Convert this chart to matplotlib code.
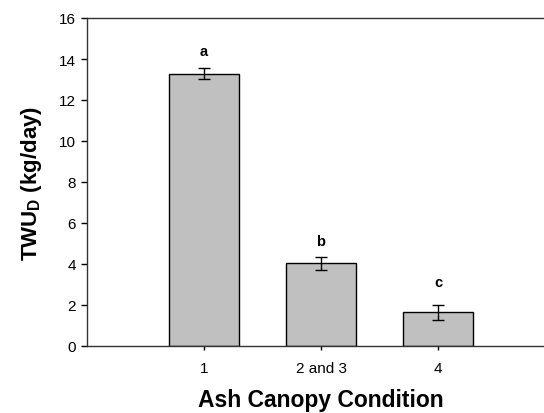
import matplotlib.pyplot as plt

# data
conditions = ['1', '2 and 3', '4']
twu = [13.28, 4.03, 1.65]
twu_err = [0.27, 0.32, 0.37]
letters = ['a', 'b', 'c']
letter_y = [14.4, 5.1, 3.1]

plt.rcParams['font.family'] = ['Liberation Sans', 'DejaVu Sans']
plt.rcParams['mathtext.fontset'] = 'custom'
plt.rcParams['mathtext.rm'] = 'Liberation Sans'
plt.rcParams['mathtext.bf'] = 'Liberation Sans:bold'

fig = plt.figure(figsize=(5.44, 4.14), dpi=100)
ax = fig.add_axes([87/544, 1 - 347/414, 468/544, 328/414])

pos = [1, 2, 3]
ax.bar(pos, twu, width=0.6, color='#c0c0c0', edgecolor='black', linewidth=1.0, zorder=2)
ax.errorbar(pos, twu, yerr=twu_err, fmt='none', ecolor='black', elinewidth=1.0,
            capsize=4, capthick=1.0, zorder=3)
for x, y, s in zip(pos, letter_y, letters):
    ax.text(x, y, s, ha='center', va='center', fontsize=10.5, fontweight='bold')

ax.set_xlim(0, 4)
ax.set_ylim(0, 16)
ax.set_xticks(pos)
ax.set_xticklabels(conditions)
ax.set_yticks(range(0, 17, 2))
ax.tick_params(axis='y', direction='out', length=4, width=1, labelsize=11, pad=4)
ax.tick_params(axis='x', direction='out', length=3, width=1, labelsize=11, pad=8)

for sp in ax.spines.values():
    sp.set_linewidth(1.0)
    sp.set_color('#333333')

ax.set_xlabel('Ash Canopy Condition', fontsize=16.5, fontweight='bold', labelpad=9)
ax.set_ylabel(r'$\mathbf{TWU_D}$ (kg/day)', fontsize=16, fontweight='bold', labelpad=11)

fig.savefig('out.png', dpi=100)
